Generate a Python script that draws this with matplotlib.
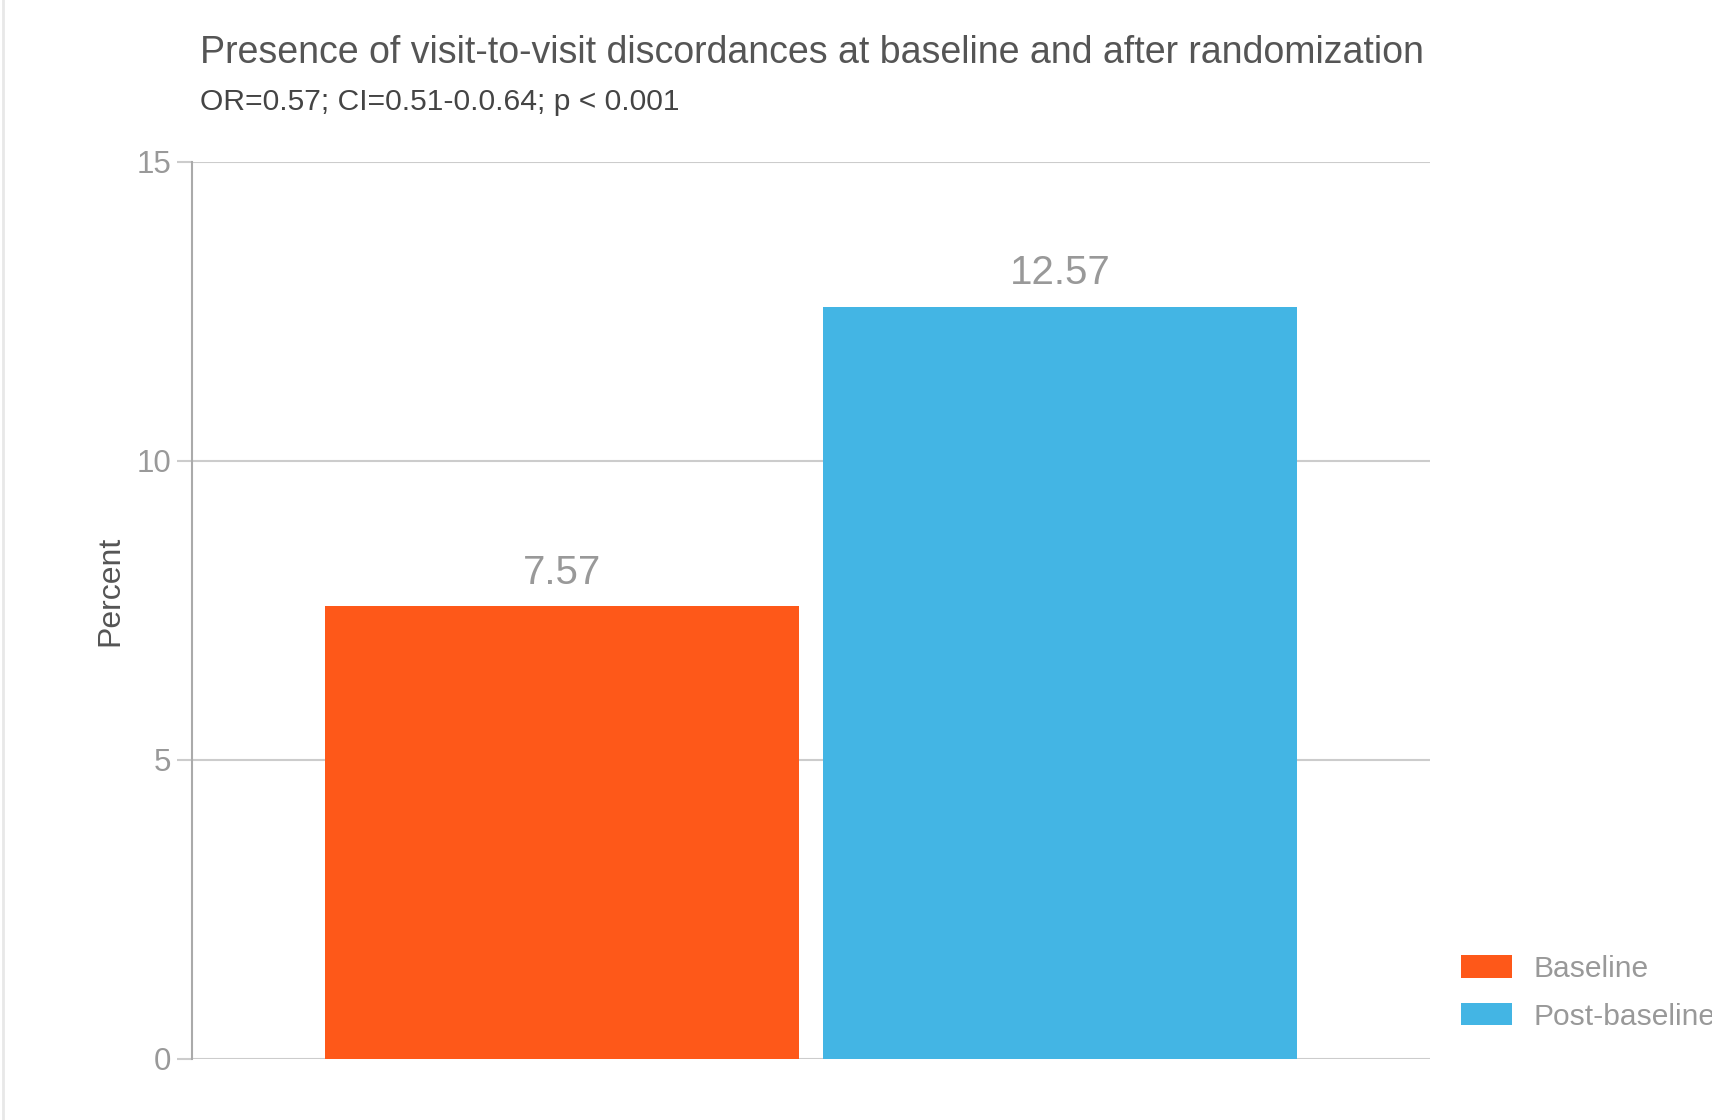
import matplotlib.pyplot as plt
from matplotlib.patches import Patch
from matplotlib.lines import Line2D

plt.rcParams['font.family'] = ['Liberation Sans', 'DejaVu Sans']

# data
groups = ['Baseline', 'Post-baseline']
values = [7.57, 12.57]
colors = ['#FE5819', '#43B5E4']
yticks = [0, 5, 10, 15]

title = 'Presence of visit-to-visit discordances at baseline and after randomization'
subtitle = 'OR=0.57; CI=0.51-0.0.64; p < 0.001'

fig = plt.figure(figsize=(17.12, 11.2), dpi=100)
ax = fig.add_axes([0.1121, 0.0545, 0.7232, 0.8012])

xpos = list(range(len(groups)))
bars = ax.bar(xpos, values, width=0.952, color=colors, zorder=3)
for b, v in zip(bars, values):
    ax.annotate(f'{v:.2f}', (b.get_x() + b.get_width() / 2, v), xytext=(0, 10.5),
                textcoords='offset points', ha='center', va='bottom',
                fontsize=29, color='#999999')

ax.set_xlim(-0.743, 1.743)
ax.set_ylim(0, 15)
ax.set_yticks(yticks)
ax.set_xticks([])
ax.yaxis.grid(True, color='#cccccc', linewidth=1.5, zorder=0)
for s in ['top', 'right', 'bottom']:
    ax.spines[s].set_visible(False)
ax.spines['left'].set_color('#aaaaaa')
ax.spines['left'].set_linewidth(1.5)
ax.tick_params(axis='y', length=11, width=1.5, color='#cccccc', pad=3.8,
               labelsize=22.5, labelcolor='#999999')
ax.set_ylabel('Percent', fontsize=23, color='#555555')
ax.yaxis.label.set_va('center')
ax.yaxis.set_label_coords(-0.0662, 0.522)

fig.text(0.1168, 0.953, title, fontsize=27, color='#555555', va='center', ha='left')
fig.text(0.1168, 0.909, subtitle, fontsize=21.6, color='#444444', va='center', ha='left')

handles = [Patch(facecolor=c, edgecolor='none') for c in colors]
fig.legend(handles, groups, loc='upper left', bbox_to_anchor=(0.8463, 0.158),
           frameon=False, fontsize=21.6, labelcolor='#999999',
           handlelength=1.71, handleheight=0.77, handletextpad=0.7,
           labelspacing=0.65, borderaxespad=0)

# faint border on the left
fig.add_artist(Line2D([0.0015, 0.0015], [0, 1], transform=fig.transFigure,
                      color='#e8e8e8', linewidth=2))

fig.savefig('out.png', dpi=100)
